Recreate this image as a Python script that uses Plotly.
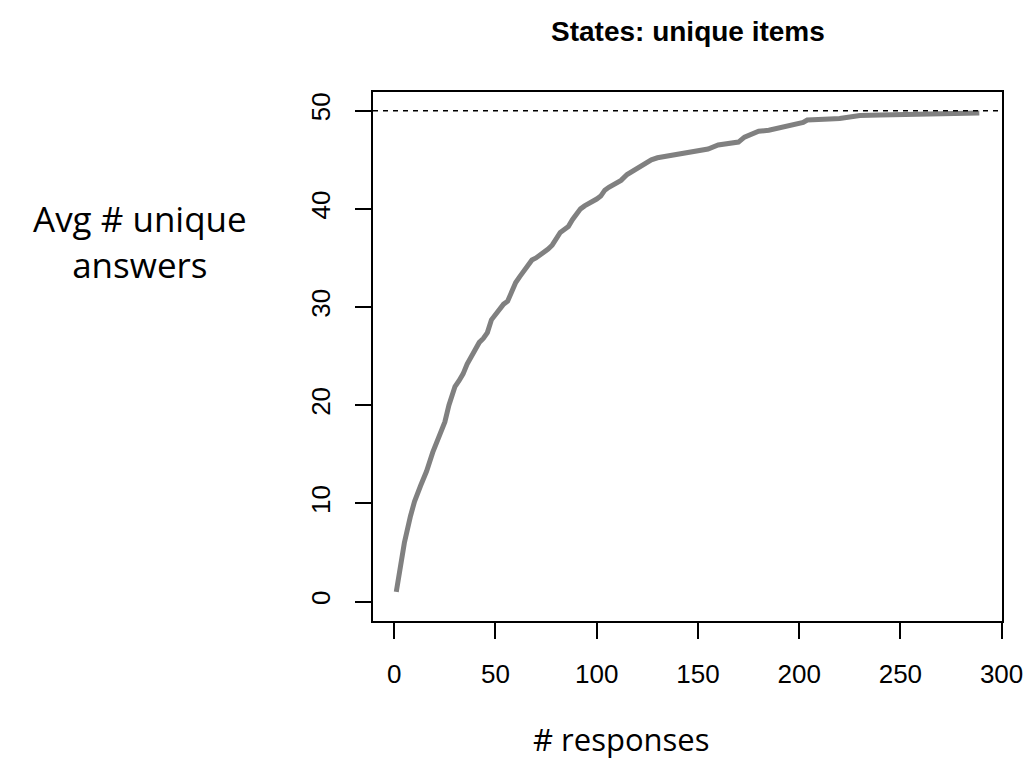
import plotly.graph_objects as go

responses = [1, 3, 5, 8, 10, 13, 16, 19, 22, 25, 27, 28, 29, 30, 32, 34, 36, 38, 40, 42,
             44, 46, 48, 50, 52, 54, 56, 58, 60, 62, 64, 66, 68, 70, 72, 74, 76, 78, 80, 82,
             84, 86, 88, 90, 92, 94, 96, 98, 100, 102, 104, 106, 108, 110, 112, 115, 118, 121,
             124, 127, 130, 135, 140, 145, 150, 155, 160, 165, 170, 173, 176, 180, 185, 190,
             195, 200, 202, 204, 210, 215, 220, 225, 230, 240, 250, 260, 270, 280, 289]
avg_unique = [1.0, 3.5, 6.0, 8.7, 10.2, 11.8, 13.3, 15.2, 16.8, 18.3, 20.0, 20.8, 21.6, 21.9,
              22.5, 23.2, 24.2, 24.9, 25.6, 26.4, 26.8, 27.4, 28.7, 29.3, 29.9, 30.3, 30.6,
              31.7, 32.5, 33.1, 33.6, 34.1, 34.8, 35.0, 35.3, 35.5, 35.9, 36.3, 37.0, 37.6,
              37.9, 38.2, 38.9, 39.5, 40.0, 40.3, 40.5, 40.8, 41.0, 41.3, 41.9, 42.2, 42.4,
              42.6, 42.9, 43.5, 43.9, 44.2, 44.7, 45.0, 45.2, 45.4, 45.6, 45.8, 45.9, 46.1,
              46.5, 46.6, 46.8, 47.3, 47.6, 47.9, 48.0, 48.2, 48.4, 48.6, 48.8, 49.05, 49.05,
              49.15, 49.2, 49.3, 49.5, 49.55, 49.6, 49.7, 49.72, 49.75, 49.75]
total_states = 50
x_ticks = [0, 50, 100, 150, 200, 250, 300]
y_ticks = [0, 10, 20, 30, 40, 50]

title_text = "States: unique items"
y_label = "Avg # unique<br>answers"
x_label = "# responses"

fig = go.Figure()
fig.add_trace(go.Scatter(x=responses, y=avg_unique, mode="lines",
                         line=dict(color="#808080", width=5), showlegend=False,
                         hoverinfo="skip"))
fig.add_shape(type="line", xref="paper", yref="y", x0=0, x1=1,
              y0=total_states, y1=total_states,
              line=dict(color="black", width=1.5, dash="5px,5px"))

axis_common = dict(showline=True, linecolor="black", linewidth=1.5, mirror=True,
                   ticks="outside", ticklen=16, tickwidth=1.5, tickcolor="black",
                   showgrid=False, zeroline=False, automargin=False,
                   tickfont=dict(family="Liberation Sans, Arial", size=26, color="black"))

fig.update_layout(
    width=1026, height=760,
    margin=dict(l=373, r=24, t=92, b=139, autoexpand=False),
    paper_bgcolor="white", plot_bgcolor="white",
    xaxis=dict(range=[-10.5, 300.2], tickvals=x_ticks, ticklabelstandoff=13, **axis_common),
    yaxis=dict(range=[-1.97, 51.9], tickvals=y_ticks, tickangle=-90,
               ticklabelstandoff=15, **axis_common),
    annotations=[
        dict(text="<b>" + title_text + "</b>", xref="paper", yref="paper",
             x=0.5, y=1, yshift=61, showarrow=False, yanchor="middle",
             font=dict(family="Liberation Sans, Arial", size=28, color="black")),
        dict(text=y_label, xref="paper", yref="paper", x=0, xshift=-233,
             y=1, yshift=-(241 - 92), showarrow=False, xanchor="center", yanchor="middle",
             align="center",
             font=dict(family="Open Sans", size=35, color="black")),
        dict(text=x_label, xref="paper", yref="paper", x=0.5, xshift=-66,
             y=0, yshift=-(739 - 621), showarrow=False, xanchor="center", yanchor="middle",
             font=dict(family="Open Sans", size=31, color="black")),
    ],
)

fig.write_html("out.html")
